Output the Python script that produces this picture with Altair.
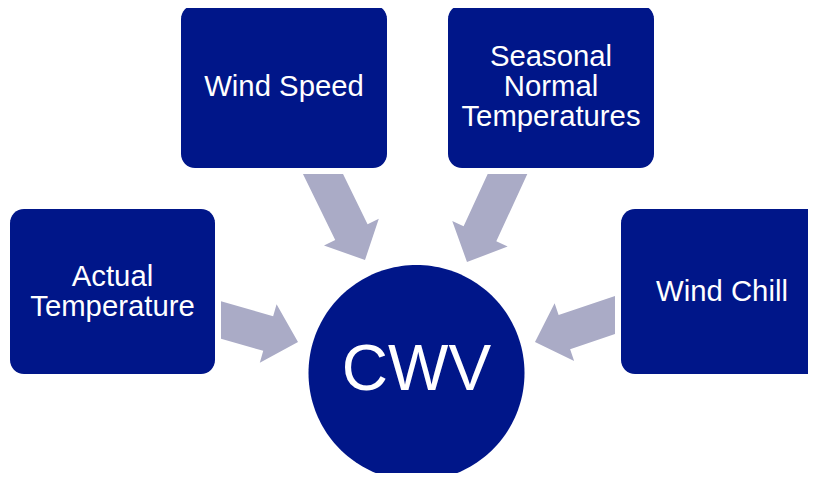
import math
import altair as alt

# ---- diagram content (page-pixel layout) ----
labels = ["Actual\nTemperature", "Wind Speed", "Seasonal\nNormal\nTemperatures", "Wind Chill"]
box_x0 = [10, 181, 448, 621]
box_x1 = [215, 387, 654, 827]
box_y0 = [209, 5, 5, 209]
box_y1 = [374, 168, 168, 374]
label_x = [112.5, 284, 551, 722]

center_label = "CWV"
circle_cx = [416.5]
circle_cy = [373]
circle_r = [108]

arrow_tail_x = [221, 323, 507.5, 615]
arrow_tail_y = [320, 174, 174, 315]
arrow_tip_x = [298, 365, 467, 535]
arrow_tip_y = [342, 260, 262, 342]
arrow_cut = ["v", "h", "h", "v"]

BOX_COLOR = "#001689"
ARROW_COLOR = "#AAABC6"
FONT = "Liberation Sans"
LINE_H = 30


def rounded_rect(x0, y0, x1, y1, r=14, n=8):
    pts = []
    corners = [(x1 - r, y0 + r, -90), (x1 - r, y1 - r, 0), (x0 + r, y1 - r, 90), (x0 + r, y0 + r, 180)]
    for cx, cy, a0 in corners:
        for k in range(n + 1):
            a = math.radians(a0 + 90 * k / n)
            pts.append([cx + r * math.cos(a), cy + r * math.sin(a)])
    pts.append(pts[0])
    return pts


def circle_ring(cx, cy, r, n=180):
    pts = [[cx + r * math.cos(2 * math.pi * k / n), cy + r * math.sin(2 * math.pi * k / n)] for k in range(n)]
    pts.append(pts[0])
    return pts


def arrow_ring(tx, ty, px, py, cut, shaft=36, head_w=61, head_len=31):
    dx, dy = px - tx, py - ty
    L = math.hypot(dx, dy)
    ux, uy = dx / L, dy / L
    nx, ny = -uy, ux
    neck = (px - head_len * ux, py - head_len * uy)

    def tail_pt(s):
        ox, oy = tx + s * shaft / 2 * nx, ty + s * shaft / 2 * ny
        if cut == "v":
            t = (tx - ox) / ux
        else:
            t = (ty - oy) / uy
        return [ox + t * ux, oy + t * uy]

    pts = [
        tail_pt(1),
        [neck[0] + shaft / 2 * nx, neck[1] + shaft / 2 * ny],
        [neck[0] + head_w / 2 * nx, neck[1] + head_w / 2 * ny],
        [px, py],
        [neck[0] - head_w / 2 * nx, neck[1] - head_w / 2 * ny],
        [neck[0] - shaft / 2 * nx, neck[1] - shaft / 2 * ny],
        tail_pt(-1),
    ]
    pts.append(pts[0])
    return pts


def feature(ring):
    return {"type": "Feature", "properties": {}, "geometry": {"type": "Polygon", "coordinates": [ring]}}


box_features = [feature(rounded_rect(a, b, c, d)) for a, b, c, d in zip(box_x0, box_y0, box_x1, box_y1)]
circle_features = [feature(circle_ring(x, y, r)) for x, y, r in zip(circle_cx, circle_cy, circle_r)]
arrow_features = [
    feature(arrow_ring(a, b, c, d, e))
    for a, b, c, d, e in zip(arrow_tail_x, arrow_tail_y, arrow_tip_x, arrow_tip_y, arrow_cut)
]

# multi-line labels: shift the first line up so the block is centred in its box
box_text = [
    {"label": l, "lon": x, "lat": (b + d) / 2 - l.count("\n") * LINE_H / 2}
    for l, x, b, d in zip(labels, label_x, box_y0, box_y1)
]
center_text = [{"label": center_label, "lon": circle_cx[0], "lat": circle_cy[0] - 2}]

arrows = alt.Chart(alt.Data(values=arrow_features)).mark_geoshape(
    fill=ARROW_COLOR, stroke=ARROW_COLOR, strokeWidth=0
)
boxes = alt.Chart(alt.Data(values=box_features)).mark_geoshape(
    fill=BOX_COLOR, stroke=BOX_COLOR, strokeWidth=0
)
circle = alt.Chart(alt.Data(values=circle_features)).mark_geoshape(
    fill=BOX_COLOR, stroke=BOX_COLOR, strokeWidth=0
)
btext = alt.Chart(alt.Data(values=box_text)).mark_text(
    font=FONT, fontSize=29.3, color="white", lineBreak="\n", lineHeight=LINE_H,
    align="center", baseline="middle"
).encode(longitude="lon:Q", latitude="lat:Q", text="label:N")
ctext = alt.Chart(alt.Data(values=center_text)).mark_text(
    font=FONT, fontSize=64, color="white", align="center", baseline="middle"
).encode(longitude="lon:Q", latitude="lat:Q", text="label:N")

chart = (
    alt.layer(arrows, boxes, circle, btext, ctext)
    .project(type="identity", scale=1, translate=[-8, -8])
    .properties(width=800, height=465, padding=0, autosize=alt.AutoSizeParams(type="none"))
    .configure_view(stroke=None)
)

chart.save("out.html", embed_options={"renderer": "svg", "actions": False})
